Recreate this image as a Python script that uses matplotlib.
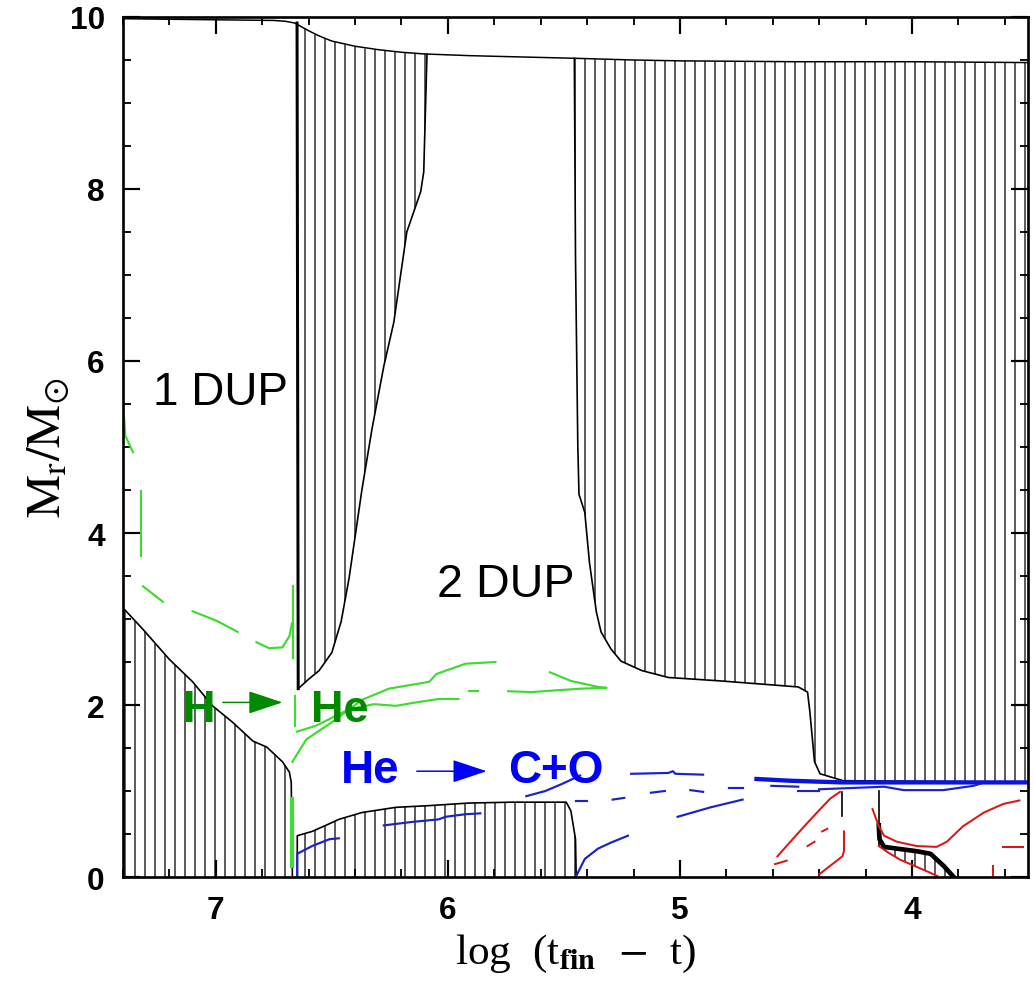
import numpy as np
import matplotlib
matplotlib.use('Agg')
import matplotlib.pyplot as plt
from matplotlib.ticker import MultipleLocator

# ---- data (x = log(t_fin - t), y = Mr/Msun) ----

# stellar surface (total mass)
surf_x = [7.40, 6.75, 6.70, 6.66, 6.60, 6.555, 6.50, 6.40, 6.30, 6.20, 6.10, 5.90, 5.455, 5.20, 5.00, 4.50, 4.00, 3.50]
surf_y = [9.98, 9.96, 9.95, 9.93, 9.84, 9.78, 9.72, 9.66, 9.62, 9.59, 9.57, 9.55, 9.52, 9.50, 9.49, 9.48, 9.48, 9.47]

# main sequence convective core
core1_x = [7.40, 7.314, 7.20, 7.10, 7.014, 6.928, 6.84, 6.78, 6.713, 6.683, 6.675, 6.67]
core1_top = [3.13, 2.88, 2.53, 2.27, 1.99, 1.80, 1.58, 1.51, 1.34, 1.22, 1.10, 0.0]

# first dredge-up envelope
env1_x = [6.650, 6.645, 6.60, 6.555, 6.50, 6.46, 6.426, 6.37, 6.327, 6.276, 6.233, 6.177, 6.117, 6.104, 6.09]
env1_bot = [9.93, 2.19, 2.30, 2.40, 2.61, 2.97, 3.47, 4.51, 5.21, 5.94, 6.45, 7.50, 7.97, 8.20, 9.57]
env1_top = [9.93, 9.92, 9.84, 9.78, 9.72, 9.69, 9.67, 9.64, 9.62, 9.61, 9.60, 9.59, 9.58, 9.575, 9.57]

# central helium burning convective core
core2_x = [6.649, 6.649, 6.585, 6.51, 6.47, 6.37, 6.224, 6.08, 5.91, 5.726, 5.49, 5.47, 5.45, 5.447]
core2_top = [0.0, 0.48, 0.53, 0.62, 0.67, 0.75, 0.81, 0.83, 0.86, 0.87, 0.87, 0.77, 0.44, 0.0]

# second dredge-up envelope
env2_x = [5.455, 5.45, 5.44, 5.435, 5.41, 5.39, 5.36, 5.34, 5.297, 5.254, 5.164, 5.05, 4.825,
          4.49, 4.45, 4.44, 4.42, 4.396, 4.297, 3.50]
env2_bot = [9.52, 7.20, 5.00, 4.45, 4.24, 3.66, 3.08, 2.85, 2.65, 2.51, 2.40, 2.32, 2.28,
            2.21, 2.15, 1.92, 1.34, 1.20, 1.12, 1.10]
env2_top = [9.52, 9.52, 9.52, 9.52, 9.51, 9.51, 9.51, 9.51, 9.50, 9.50, 9.50, 9.49, 9.49,
            9.48, 9.48, 9.48, 9.48, 9.48, 9.48, 9.47]

# late carbon burning convective zone
core3_x = [4.143, 4.14, 4.12, 4.065, 3.98, 3.92, 3.864, 3.82]
core3_top = [0.60, 0.44, 0.35, 0.33, 0.30, 0.27, 0.13, 0.0]
core3_bot = [0.36, 0.35, 0.31, 0.22, 0.12, 0.04, 0.0, 0.0]

# H burning shell (green)
green_x = [[7.40, 7.39, 7.357], [7.323, 7.323], [7.314, 7.228], [7.10, 6.997, 6.906],
           [6.825, 6.77, 6.713, 6.683, 6.672], [6.666, 6.666], [6.66, 6.66],
           [6.67, 6.61, 6.50, 6.37, 6.254, 6.08, 6.05, 5.924, 5.795],
           [6.65, 6.567, 6.426, 6.318, 6.224, 6.138, 6.04, 5.954],
           [5.91, 5.87], [5.74, 5.64, 5.537, 5.426, 5.318], [5.56, 5.47, 5.353, 5.318]]
green_y = [[5.52, 5.13, 4.94], [4.49, 3.73], [3.38, 3.20], [3.09, 2.98, 2.85],
           [2.73, 2.66, 2.67, 2.80, 2.95], [3.38, 2.55], [2.10, 1.76],
           [1.34, 1.60, 1.80, 2.06, 2.19, 2.27, 2.36, 2.48, 2.50],
           [1.69, 1.76, 1.95, 2.01, 1.99, 2.03, 2.07, 2.07],
           [2.16, 2.16], [2.16, 2.15, 2.17, 2.19, 2.20], [2.38, 2.28, 2.21, 2.20]]
green_core_x = [6.67, 6.67]
green_core_y = [0.91, 0.13]

# He burning (blue)
blue_x = [[6.649, 6.649, 6.585, 6.51, 6.47], [6.276, 6.155, 6.04, 6.01, 5.924, 5.86],
          [5.447, 5.41, 5.353, 5.297, 5.224], [5.01, 4.868, 4.73], [5.662, 5.58, 5.51, 5.43],
          [5.21, 5.05, 5.03, 5.02, 4.90], [5.45, 5.40], [5.29, 5.24], [5.125, 5.065],
          [4.955, 4.90], [4.79, 4.73], [4.606, 4.49], [4.49, 4.40],
          [4.40, 4.12, 4.035, 3.866, 3.735, 3.70]]
blue_y = [[0.0, 0.27, 0.36, 0.44, 0.45], [0.60, 0.64, 0.67, 0.70, 0.73, 0.74],
          [0.01, 0.21, 0.33, 0.40, 0.48], [0.70, 0.81, 0.90], [0.94, 1.00, 1.08, 1.18],
          [1.20, 1.21, 1.23, 1.20, 1.19], [0.88, 0.88], [0.90, 0.92], [0.98, 1.00],
          [1.01, 0.99], [1.03, 1.03], [1.06, 1.05], [1.00, 1.00],
          [1.02, 1.05, 1.01, 1.01, 1.06, 1.09]]
blue_main_x = [4.67, 4.53, 4.42, 4.30, 3.50]
blue_main_y = [1.14, 1.12, 1.11, 1.10, 1.10]

# C burning (red)
red_x = [[4.58, 4.524, 4.464, 4.409, 4.353, 4.31], [4.40, 4.30, 4.293, 4.293],
         [4.45, 4.42], [4.387, 4.365], [4.59, 4.54], [4.17, 4.143],
         [4.143, 4.12, 4.065, 3.98, 3.894, 3.85, 3.78, 3.69, 3.606, 3.537],
         [4.143, 4.10, 4.05, 3.99, 3.93, 3.89], [3.606, 3.52], [3.65, 3.65]]
red_y = [[0.24, 0.41, 0.59, 0.75, 0.91, 0.99], [0.03, 0.24, 0.30, 0.53],
         [0.36, 0.41], [0.53, 0.56], [0.15, 0.19], [0.79, 0.59],
         [0.59, 0.48, 0.41, 0.36, 0.35, 0.41, 0.59, 0.75, 0.85, 0.89],
         [0.36, 0.28, 0.20, 0.13, 0.06, 0.01], [0.35, 0.35], [0.0, 0.13]]

# short black boundaries near the end
black_x = [[4.143, 4.143], [4.30, 4.30]]
black_y = [[1.00, 0.36], [0.99, 0.71]]

x_ticks = [7, 6, 5, 4]
y_ticks = [0, 2, 4, 6, 8, 10]

GREEN_LINE = '#3ddc2e'
GREEN_TEXT = '#008a00'
BLUE_LINE = '#1a22c8'
BLUE_TEXT = '#0000ff'
RED_LINE = '#dd1515'

DPI = 120
plt.rcParams['hatch.linewidth'] = 0.75
plt.rcParams['hatch.color'] = 'black'
plt.rcParams['mathtext.fontset'] = 'stix'


def hatch_zone(ax, x, bot, top):
    # vertical hatching marks the convective zones
    ax.fill_between(x, bot, top, facecolor='none', edgecolor='black',
                    hatch='||', linewidth=0)


fig = plt.figure(figsize=(1034 / DPI, 984 / DPI), dpi=DPI)
ax = fig.add_axes([123 / 1034, 1 - 878 / 984, (1028 - 123) / 1034, (878 - 18) / 984])

hatch_zone(ax, core1_x, np.zeros(len(core1_x)), core1_top)
hatch_zone(ax, env1_x, env1_bot, env1_top)
hatch_zone(ax, core2_x, np.zeros(len(core2_x)), core2_top)
hatch_zone(ax, env2_x, env2_bot, env2_top)
hatch_zone(ax, core3_x, core3_bot, core3_top)

ax.plot(surf_x, surf_y, color='black', lw=0.9)
ax.plot(core1_x, core1_top, color='black', lw=1.0)
ax.plot(env1_x, env1_bot, color='black', lw=1.0)
ax.plot(env1_x[:2], env1_bot[:2], color='black', lw=1.8)
ax.plot(core2_x, core2_top, color='black', lw=1.0)
ax.plot(env2_x, env2_bot, color='black', lw=1.0)
ax.plot(core3_x, core3_top, color='black', lw=2.8)
for xs, ys in zip(black_x, black_y):
    ax.plot(xs, ys, color='black', lw=1.0)

for xs, ys in zip(green_x, green_y):
    ax.plot(xs, ys, color=GREEN_LINE, lw=1.3)
ax.plot(green_core_x, green_core_y, color=GREEN_LINE, lw=2.5)

for xs, ys in zip(blue_x, blue_y):
    ax.plot(xs, ys, color=BLUE_LINE, lw=1.3)
ax.plot(blue_main_x, blue_main_y, color='#0a14e0', lw=2.6)

for xs, ys in zip(red_x, red_y):
    ax.plot(xs, ys, color=RED_LINE, lw=1.2)

# labels inside the plot
ax.text(7.27, 5.5, '1 DUP', fontsize=27.5, family='Liberation Sans', color='black')
ax.text(6.048, 3.27, '2 DUP', fontsize=28, family='Liberation Sans', color='black')

ax.text(7.142, 1.81, 'H', fontsize=27, family='Liberation Sans', weight='bold', color=GREEN_TEXT)
ax.text(6.589, 1.81, 'He', fontsize=27, family='Liberation Sans', weight='bold', color=GREEN_TEXT)
ax.annotate('', xy=(6.713, 2.03), xytext=(6.97, 2.03),
            arrowprops=dict(arrowstyle='-|>,head_length=1.5,head_width=0.5', mutation_scale=12,
                            lw=0.9, color=GREEN_TEXT, shrinkA=0, shrinkB=0))

ax.text(6.46, 1.10, 'He', fontsize=27.5, family='Liberation Sans', weight='bold', color=BLUE_TEXT)
ax.text(5.739, 1.10, 'C+O', fontsize=27.5, family='Liberation Sans', weight='bold', color=BLUE_TEXT)
ax.annotate('', xy=(5.833, 1.23), xytext=(6.134, 1.23),
            arrowprops=dict(arrowstyle='-|>,head_length=1.5,head_width=0.5', mutation_scale=12,
                            lw=0.9, color=BLUE_TEXT, shrinkA=0, shrinkB=0))

ax.set_xlim(7.4, 3.5)
ax.set_ylim(0, 10)
ax.set_xticks(x_ticks)
ax.set_yticks(y_ticks)
ax.xaxis.set_minor_locator(MultipleLocator(0.2))
ax.yaxis.set_minor_locator(MultipleLocator(0.5))
ax.tick_params(which='both', direction='in', top=True, right=True)
ax.tick_params(which='major', length=10, width=1.3, pad=11)
ax.tick_params(which='minor', length=5, width=1.1)
for lab in ax.get_xticklabels() + ax.get_yticklabels():
    lab.set_fontsize(19)
    lab.set_fontweight('bold')
    lab.set_family('Liberation Sans')
for sp in ax.spines.values():
    sp.set_linewidth(1.6)

ax.set_xlabel(r'log  (t$_{\mathbf{fin}}$  $-$  t)', fontsize=26, family='Liberation Serif')
ax.xaxis.set_label_coords(0.5, -0.064)
ax.xaxis.label.set_verticalalignment('top')
ax.set_ylabel(r'$\mathrm{M_r/M_{\odot}}$', fontsize=29)
ax.yaxis.set_label_coords(-0.056, 0.5)

fig.savefig('out.png', dpi=DPI)
